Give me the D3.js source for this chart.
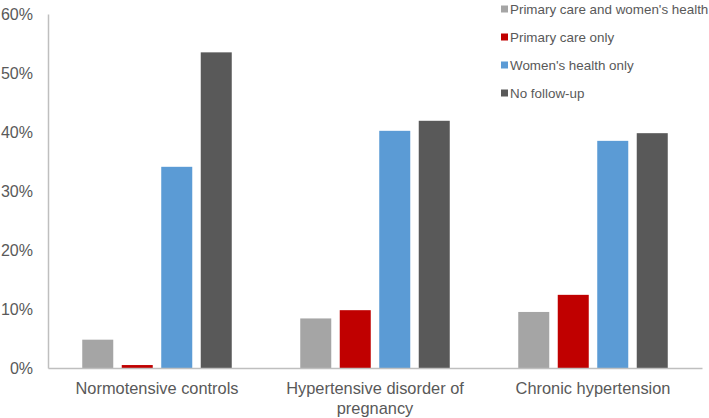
<!DOCTYPE html>
<html><head><meta charset="utf-8">
<script src="https://cdn.jsdelivr.net/npm/d3@7"></script>
<style>body{margin:0;background:#fff}svg{display:block;font-family:"Liberation Sans",Arial,sans-serif}</style>
</head><body><svg id="c" width="709" height="418"></svg>
<script>
const categories = ["Normotensive controls", "Hypertensive disorder of pregnancy", "Chronic hypertension"];
const categoryLines = [["Normotensive controls"], ["Hypertensive disorder of", "pregnancy"], ["Chronic hypertension"]];
const seriesNames = ["Primary care and women's health", "Primary care only", "Women's health only", "No follow-up"];
const seriesColors = ["#A5A5A5", "#C00000", "#5B9BD5", "#595959"];
const bothValues = [4.8, 8.4, 9.5];
const primaryOnlyValues = [0.5, 9.8, 12.4];
const womensOnlyValues = [34.1, 40.2, 38.5];
const noFollowValues = [53.5, 41.9, 39.8];
const yTicks = [0, 10, 20, 30, 40, 50, 60];

const seriesValues = [bothValues, primaryOnlyValues, womensOnlyValues, noFollowValues];
const svg = d3.select("#c");
const mLeft = 48, mRight = 702, mTop = 14, mBottom = 368;
const textColor = "#595959";

const x0 = d3.scaleBand().domain(categories).range([mLeft, mRight]).padding(0);
const x1 = d3.scaleBand().domain(seriesNames).range([0, x0.bandwidth()]).paddingInner(0.215).paddingOuter(0.867);
const y = d3.scaleLinear().domain([0, 60]).range([mBottom, mTop]);

// bars
categories.forEach((c, ci) => {
  const g = svg.append("g").attr("transform", `translate(${x0(c)},0)`);
  seriesNames.forEach((s, si) => {
    const v = seriesValues[si][ci];
    g.append("rect")
      .attr("x", x1(s)).attr("width", x1.bandwidth())
      .attr("y", y(v)).attr("height", y(0) - y(v))
      .attr("fill", seriesColors[si]);
  });
});

// y axis
const yAxis = d3.axisLeft(y).tickValues(yTicks).tickFormat(d => d + "%").tickSize(0).tickPadding(15);
const ya = svg.append("g").attr("transform", `translate(${mLeft},0)`).call(yAxis);
ya.select(".domain").attr("stroke", "#BFBFBF").attr("stroke-width", 1.5);
ya.selectAll("text").attr("fill", textColor).attr("font-size", 16).attr("font-family", "Liberation Sans, Arial, sans-serif");

// x axis
const xAxis = d3.axisBottom(x0).tickSize(0).tickFormat("");
const xa = svg.append("g").attr("transform", `translate(0,${mBottom})`).call(xAxis);
xa.select(".domain").attr("stroke", "#BFBFBF").attr("stroke-width", 1.5);
xa.selectAll(".tick").each(function(d, i) {
  const t = d3.select(this).append("text")
    .attr("fill", textColor).attr("font-size", 16.4).attr("text-anchor", "middle")
    .attr("font-family", "Liberation Sans, Arial, sans-serif");
  categoryLines[i].forEach((line, li) => {
    t.append("tspan").attr("x", 0).attr("y", 26 + li * 20).text(line);
  });
});

// legend
const legend = svg.append("g");
seriesNames.forEach((s, i) => {
  const ly = 9 + i * 28;
  legend.append("rect").attr("x", 501).attr("y", ly - 3.5).attr("width", 7).attr("height", 7).attr("fill", seriesColors[i]);
  legend.append("text").attr("x", 510).attr("y", ly).attr("dy", "0.35em")
    .attr("fill", textColor).attr("font-size", 13.4).text(s);
});
</script></body></html>
